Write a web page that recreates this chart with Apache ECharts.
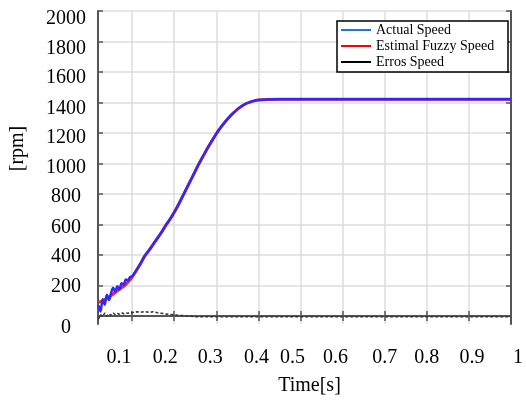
<!DOCTYPE html>
<html>
<head>
<meta charset="utf-8">
<script src="https://cdn.jsdelivr.net/npm/echarts@6/dist/echarts.min.js"></script>
<style>
  html, body { margin: 0; padding: 0; background: #fff; }
  #chart { width: 526px; height: 403px; }
</style>
</head>
<body>
<div id="chart"></div>
<script>
// time samples [s]
var timeS = [0.02, 0.025, 0.03, 0.035, 0.04, 0.045, 0.05, 0.055, 0.06, 0.065, 0.07, 0.075, 0.08, 0.085, 0.09, 0.095,
  0.1, 0.11, 0.12, 0.13, 0.14, 0.15, 0.16, 0.17, 0.18, 0.19, 0.2, 0.21, 0.22, 0.23, 0.24, 0.25, 0.26, 0.27, 0.28, 0.29,
  0.3, 0.31, 0.32, 0.33, 0.34, 0.35, 0.36, 0.37, 0.38, 0.39, 0.4,
  0.42, 0.45, 0.5, 0.6, 0.7, 0.8, 0.9, 1.0];

var actualSpeed = [70, 30, 110, 75, 140, 105, 150, 185, 160, 195, 175, 215, 205, 240, 235, 255,
  260, 300, 345, 395, 430, 470, 510, 550, 595, 635, 680, 730, 785, 840, 895, 950, 1005, 1055, 1105, 1150,
  1195, 1235, 1270, 1302, 1330, 1355, 1375, 1392, 1403, 1411, 1416,
  1420, 1421, 1421, 1421, 1421, 1421, 1421, 1421];

var fuzzySpeed = [90, 95, 100, 108, 117, 126, 135, 145, 155, 165, 175, 185, 195, 208, 222, 238,
  255, 298, 343, 393, 430, 470, 510, 550, 595, 635, 680, 730, 785, 840, 895, 950, 1005, 1055, 1105, 1150,
  1195, 1235, 1270, 1302, 1330, 1355, 1375, 1392, 1403, 1411, 1416,
  1420, 1421, 1421, 1421, 1421, 1421, 1421, 1421];

var errorSpeed = [-20, 10, -5, 20, 0, 15, 5, 20, 10, 18, 12, 22, 15, 20, 18, 25,
  22, 28, 25, 30, 24, 28, 22, 18, 14, 10, 8, 5, 3, 0, -2, -4, -5, -5, -5, -5,
  -5, -5, -5, -5, -5, -5, -5, -5, -5, -5, -5,
  -5, -5, -5, -5, -5, -5, -5, -5];

var xTicks = [0.1, 0.2, 0.3, 0.4, 0.5, 0.6, 0.7, 0.8, 0.9, 1];
var yTicks = [0, 200, 400, 600, 800, 1000, 1200, 1400, 1600, 1800, 2000];

function pairs(vals) {
  return timeS.map(function (t, i) { return [t, vals[i]]; });
}

var font = "'Liberation Serif', 'Times New Roman', serif";
var frame = { show: true, lineStyle: { color: '#555', width: 2 } };
var inTicks = { show: true, inside: true, length: 5, lineStyle: { color: '#555', width: 1.5 } };

// the scanned tick labels sit a little off their grid lines
var xShift = [-13, -9, -6, -2, -8, -7, 0, 0, 3, 7];
var xRich = {};
xTicks.forEach(function (v, i) {
  var d = xShift[i];
  xRich['x' + i] = { fontFamily: font, fontSize: 20, color: '#000',
    padding: d < 0 ? [0, -2 * d, 0, 0] : [0, 0, 0, 2 * d] };
});
var yRich = {};
yTicks.forEach(function (v, i) {
  var d = v === 0 ? 12 : Math.round(1 + (v - 200) / 1800 * 7);
  yRich['y' + i] = { fontFamily: font, fontSize: 20, color: '#000', padding: [2 * d, 0, 0, 0] };
});

var chart = echarts.init(document.getElementById('chart'));
chart.setOption({
  animation: false,
  textStyle: { fontFamily: font },
  grid: { left: 98, right: 13, top: 11, bottom: 79 },
  legend: {
    orient: 'vertical',
    left: 337,
    top: 21,
    padding: [1, 4, 2, 4],
    itemGap: 0,
    itemWidth: 30,
    itemHeight: 2,
    icon: 'rect',
    backgroundColor: '#fff',
    borderColor: '#000',
    borderWidth: 1.5,
    textStyle: { fontFamily: font, fontSize: 14, color: '#000', lineHeight: 16, width: 128, overflow: 'truncate', ellipsis: '' },
    data: [
      { name: 'Actual Speed', itemStyle: { color: '#1f78d0' } },
      { name: 'Estimal Fuzzy Speed', itemStyle: { color: '#ff0000' } },
      { name: 'Erros Speed', itemStyle: { color: '#000' } }
    ]
  },
  xAxis: [{
    type: 'value',
    min: 0.019,
    max: 1,
    name: 'Time[s]',
    nameLocation: 'middle',
    nameGap: 52,
    nameTextStyle: { fontFamily: font, fontSize: 20, color: '#000', padding: [0, 0, 0, 10] },
    axisLine: frame,
    axisTick: Object.assign({ customValues: xTicks }, inTicks),
    axisLabel: {
      customValues: xTicks,
      margin: 24,
      fontFamily: font,
      fontSize: 20,
      color: '#000',
      formatter: function (v) {
        var i = xTicks.indexOf(Math.round(v * 10) / 10);
        return '{x' + i + '|' + v + '}';
      },
      rich: xRich
    },
    splitLine: { show: true, lineStyle: { color: '#dcdcdc', width: 1.5 } }
  }, {
    type: 'value',
    position: 'top',
    min: 0.019,
    max: 1,
    axisLine: frame,
    axisTick: Object.assign({ customValues: xTicks }, inTicks),
    axisLabel: { show: false },
    splitLine: { show: false }
  }],
  yAxis: [{
    type: 'value',
    min: -52,
    max: 2000,
    name: '[rpm]',
    nameLocation: 'middle',
    nameGap: 70,
    nameRotate: 90,
    nameTextStyle: { fontFamily: font, fontSize: 20, color: '#000', padding: [0, 0, 0, 38] },
    axisLine: frame,
    axisTick: Object.assign({ customValues: yTicks }, inTicks),
    axisLabel: {
      customValues: yTicks,
      align: 'center',
      margin: 32,
      fontFamily: font,
      fontSize: 20,
      color: '#000',
      formatter: function (v) { return '{y' + yTicks.indexOf(v) + '|' + v + '}'; },
      rich: yRich
    },
    splitLine: { show: true, lineStyle: { color: '#dcdcdc', width: 1.5 } }
  }, {
    type: 'value',
    position: 'right',
    min: -52,
    max: 2000,
    axisLine: frame,
    axisTick: Object.assign({ customValues: yTicks }, inTicks),
    axisLabel: { show: false },
    splitLine: { show: false }
  }],
  series: [{
    name: 'Actual Speed',
    type: 'line',
    z: 4,
    showSymbol: false,
    smooth: 0.3,
    data: pairs(actualSpeed),
    lineStyle: { color: '#2a2aff', width: 2.5 },
    itemStyle: { color: '#2a2aff' }
  }, {
    name: 'Estimal Fuzzy Speed',
    type: 'line',
    z: 3,
    showSymbol: false,
    smooth: 0.3,
    data: pairs(fuzzySpeed),
    lineStyle: { color: '#ff2020', width: 3 },
    itemStyle: { color: '#ff2020' }
  }, {
    name: 'Erros Speed',
    type: 'line',
    z: 2,
    showSymbol: false,
    data: pairs(errorSpeed),
    lineStyle: { color: '#333', width: 1.5, type: [3, 2] },
    itemStyle: { color: '#333' }
  }]
});
</script>
</body>
</html>
